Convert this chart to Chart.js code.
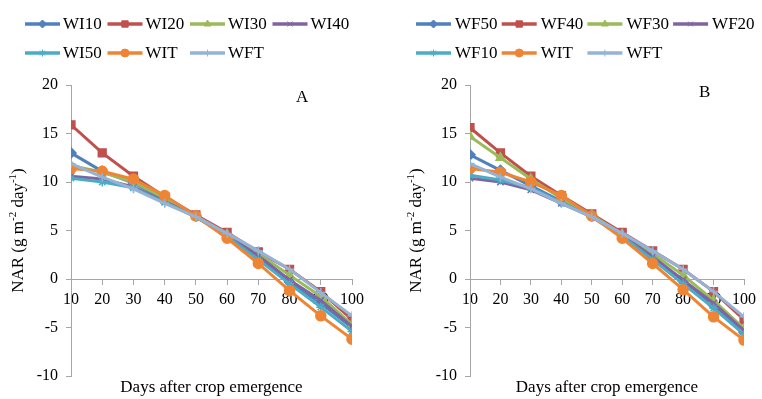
<!DOCTYPE html>
<html>
<head>
<meta charset="utf-8">
<script src="https://cdn.jsdelivr.net/npm/chart.js@4.4.1/dist/chart.umd.min.js"></script>
<style>
  html, body { margin: 0; padding: 0; background: #fff; }
  #wrap { position: relative; width: 762px; height: 399px; }
  .box { position: absolute; top: 0; width: 381px; height: 399px; }
  #boxA { left: 0; }
  #boxB { left: 381px; }
</style>
</head>
<body>
<div id="wrap">
  <div class="box" id="boxA"><canvas id="chartA"></canvas></div>
  <div class="box" id="boxB"><canvas id="chartB"></canvas></div>
</div>
<script>
// days after crop emergence
const days = [10, 20, 30, 40, 50, 60, 70, 80, 90, 100];

// panel A
const namesA = ['WI10', 'WI20', 'WI30', 'WI40', 'WI50', 'WIT', 'WFT'];
const wi10  = [13.0, 11.1, 9.9, 8.2, 6.5, 4.6, 2.3, -0.3, -2.5, -5.0];
const wi20  = [15.9, 13.0, 10.6, 8.5, 6.6, 4.8, 2.8, 1.0, -1.3, -4.2];
const wi30  = [11.7, 11.0, 10.0, 8.3, 6.5, 4.6, 2.6, 0.4, -1.8, -4.7];
const wi40  = [10.6, 10.3, 9.5, 8.0, 6.4, 4.5, 2.4, -0.1, -2.2, -4.9];
const wi50  = [10.4, 10.0, 9.4, 7.9, 6.4, 4.4, 2.0, -0.5, -2.9, -5.4];
const witA  = [11.4, 11.1, 10.3, 8.6, 6.5, 4.2, 1.6, -1.2, -3.8, -6.2];
const wftA  = [11.9, 10.5, 9.3, 7.8, 6.4, 4.7, 2.9, 1.0, -1.4, -3.8];

// panel B
const namesB = ['WF50', 'WF40', 'WF30', 'WF20', 'WF10', 'WIT', 'WFT'];
const wf50  = [12.8, 11.2, 9.6, 8.0, 6.5, 4.5, 2.2, -0.2, -2.7, -5.5];
const wf40  = [15.6, 13.0, 10.6, 8.6, 6.7, 4.8, 2.9, 1.0, -1.3, -4.2];
const wf30  = [14.7, 12.5, 10.3, 8.3, 6.6, 4.6, 2.6, 0.4, -2.2, -5.1];
const wf20  = [10.4, 10.0, 9.2, 7.8, 6.4, 4.5, 2.3, -0.1, -2.5, -5.3];
const wf10  = [10.7, 10.2, 9.4, 7.9, 6.4, 4.4, 2.0, -0.5, -3.0, -5.7];
const witB  = [11.4, 11.0, 10.0, 8.6, 6.5, 4.2, 1.6, -1.1, -3.9, -6.3];
const wftB  = [11.9, 10.5, 9.3, 7.8, 6.4, 4.7, 2.9, 1.0, -1.3, -3.9];

const yMin = -10, yMax = 20, yStep = 5;

// series styles (same order in both panels)
const colors  = ['#4F81BD', '#C0504D', '#9BBB59', '#8064A2', '#4BACC6', '#EE8535', '#95B3D7'];
const markers = ['rectRot', 'rect', 'triangle', 'crossRot', 'star', 'circle', 'cross'];
const radii   = [5, 5.5, 5, 4.5, 4.5, 5, 4.5];

const serif = '"Liberation Serif", "Times New Roman", serif';
const axisGrey = '#A6A6A6';

// legend grid, panel letter and axis titles drawn on the canvas
const panelDeco = {
  id: 'panelDeco',
  afterDraw(chart, args, opts) {
    const ctx = chart.ctx;
    const area = chart.chartArea;
    ctx.save();
    ctx.font = '17px ' + serif;
    ctx.textBaseline = 'middle';
    ctx.textAlign = 'left';
    chart.data.datasets.forEach((ds, i) => {
      const x = opts.legendX + (i % 4) * opts.legendDX;
      const y = opts.legendY[Math.floor(i / 4)];
      ctx.strokeStyle = ds.borderColor;
      ctx.lineWidth = 3.5;
      ctx.beginPath();
      ctx.moveTo(x, y);
      ctx.lineTo(x + 35, y);
      ctx.stroke();
      ctx.fillStyle = ds.pointBackgroundColor;
      ctx.strokeStyle = ds.pointBorderColor;
      ctx.lineWidth = 1;
      Chart.helpers.drawPoint(ctx, { pointStyle: ds.pointStyle, radius: ds.pointRadius - 1, borderWidth: 1, rotation: 0 }, x + 17.5, y);
      ctx.fillStyle = '#000';
      ctx.fillText(ds.label, x + opts.textDX, y + 1);
    });

    // panel letter
    ctx.fillText(opts.letter, opts.letterX, opts.letterY);

    // x title
    ctx.textAlign = 'center';
    ctx.fillText('Days after crop emergence', (area.left + area.right) / 2, 388);

    // y title with superscripts
    const parts = [['NAR (g m', false], ['-2', true], [' day', false], ['-1', true], [')', false]];
    const big = '17px ' + serif, small = '11px ' + serif;
    let total = 0;
    parts.forEach(p => { ctx.font = p[1] ? small : big; total += ctx.measureText(p[0]).width; });
    ctx.translate(opts.yTitleX, (area.top + area.bottom) / 2);
    ctx.rotate(-Math.PI / 2);
    ctx.textAlign = 'left';
    let cx = -total / 2;
    parts.forEach(p => {
      ctx.font = p[1] ? small : big;
      ctx.fillText(p[0], cx, p[1] ? -6 : 0);
      cx += ctx.measureText(p[0]).width;
    });
    ctx.restore();
  }
};

function makeChart(id, names, series, deco) {
  const datasets = series.map((vals, i) => ({
    label: names[i],
    data: vals.map((v, k) => ({ x: days[k], y: v })),
    borderColor: colors[i],
    backgroundColor: colors[i],
    pointBackgroundColor: colors[i],
    pointBorderColor: colors[i],
    pointStyle: markers[i],
    pointRadius: radii[i],
    pointBorderWidth: 1.5,
    borderWidth: 3,
    tension: 0,
    order: names.length - i
  }));
  const tickFont = { family: serif, size: 16 };
  return new Chart(document.getElementById(id), {
    type: 'line',
    data: { datasets },
    options: {
      responsive: true,
      maintainAspectRatio: false,
      animation: false,
      layout: { padding: { top: 85, bottom: 23, left: 0, right: deco.padRight } },
      plugins: {
        legend: { display: false },
        tooltip: { enabled: false },
        panelDeco: deco
      },
      scales: {
        x: {
          type: 'linear',
          min: 10, max: 100,
          position: { y: 0 },
          ticks: { stepSize: 10, padding: 6, color: '#000', font: tickFont, maxRotation: 0 },
          grid: { drawOnChartArea: false, tickLength: 5, color: axisGrey },
          border: { color: axisGrey }
        },
        y: {
          min: yMin, max: yMax,
          ticks: { stepSize: yStep, padding: 8, color: '#000', font: tickFont },
          grid: { drawOnChartArea: false, tickLength: 5, color: axisGrey },
          border: { color: axisGrey },
          afterFit(scale) { scale.width = deco.axisX; }
        }
      }
    },
    plugins: [panelDeco]
  });
}

makeChart('chartA', namesA, [wi10, wi20, wi30, wi40, wi50, witA, wftA], {
  axisX: 71, padRight: 29,
  legendX: 25, legendDX: 82.5, legendY: [24, 53], textDX: 38,
  letter: 'A', letterX: 296, letterY: 98, yTitleX: 19
});
makeChart('chartB', namesB, [wf50, wf40, wf30, wf20, wf10, witB, wftB], {
  axisX: 89, padRight: 12,
  legendX: 35, legendDX: 85.7, legendY: [24, 53], textDX: 39,
  letter: 'B', letterX: 318, letterY: 93, yTitleX: 36
});
</script>
</body>
</html>
